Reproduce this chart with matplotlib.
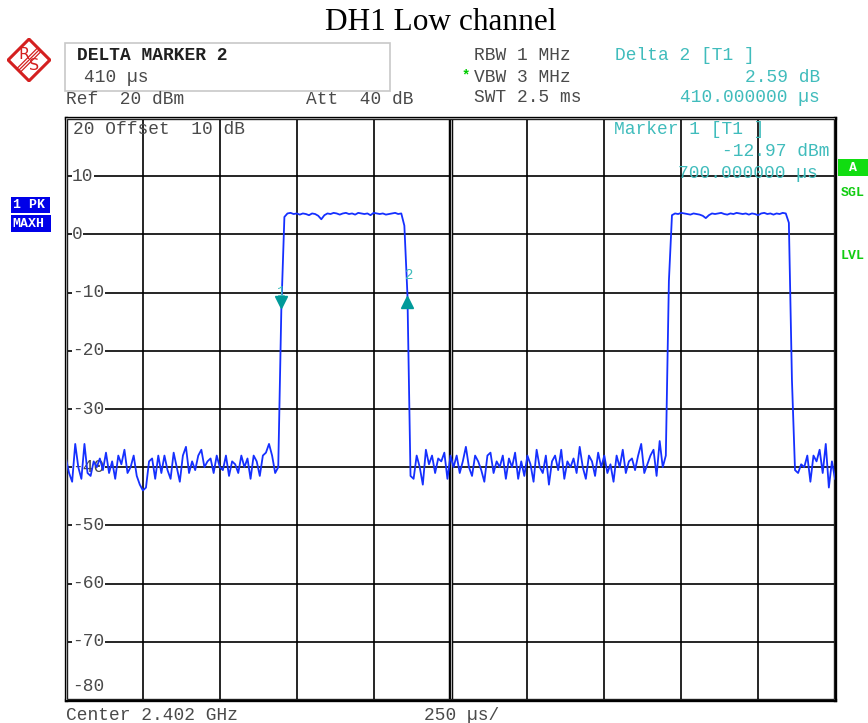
import matplotlib
matplotlib.use("Agg")
import matplotlib.pyplot as plt
import matplotlib.transforms as mtransforms
from matplotlib.patches import Rectangle, Polygon
import numpy as np

# ---------------- data ----------------
title = "DH1 Low channel"
sweep_time_us = 2500
time_div_us = 250
ref_level = 20
bottom_level = -80
ytick_values = [10, 0, -10, -20, -30, -40, -50, -60, -70]

noise_a = [-38.5, -41, -42.5, -36, -40, -42, -36, -41, -41.5, -39,
           -40, -38.5, -40.5, -37.5, -41, -39, -42, -38, -39.5, -37,
           -41, -40, -38, -41.5, -43, -44, -43.5, -39, -38.5, -42,
           -38, -41, -38, -40.5, -42, -37.5, -40, -42.5, -38, -36.5,
           -41, -39, -40.5, -38, -37, -40, -39, -38.5, -41, -38,
           -40, -40.5, -38, -41.5, -39, -39.5, -41, -38, -40, -38.5,
           -42, -38, -39, -41.5, -38, -37.5, -36, -38, -41, -40]
rise_a = [-12.97, 3.0]
top_a = [3.6, 3.7, 3.5, 3.6, 3.4, 3.6, 3.5, 3.3, 3.6, 3.5,
         3.2, 2.6, 3.3, 3.6, 3.5, 3.7, 3.6, 3.4, 3.6, 3.7,
         3.5, 3.6, 3.4, 3.7, 3.6, 3.5, 3.6, 3.3, 3.7, 3.6,
         3.5, 3.6, 3.4, 3.5, 3.6, 3.7, 3.5, 3.6]
fall_a = [1.5, -10.38, -41.5]
noise_b = [-42, -38, -40, -43, -37, -39.5, -38, -41, -38.5, -39,
           -37.5, -42, -38, -40, -38, -41, -39, -36.5, -40, -41.5,
           -38, -39, -40.5, -42.5, -38, -37.5, -41, -39, -40, -38,
           -42, -38.5, -40, -37.5, -42, -39, -41.5, -38, -39.5, -42.5,
           -37, -40, -41, -38, -43, -39, -38, -40.5, -37, -42,
           -39, -40, -38.5, -41, -36.5, -40, -42, -38, -39, -41.5,
           -37.5, -40, -38, -41, -39.5, -42.5, -38, -40, -37, -41,
           -39, -38.5, -40.5, -38, -36, -41, -39.5, -38, -37, -41.5,
           -35.5, -40]
rise_b = [-38, -8, 3.3]
top_b = [3.6, 3.5, 3.7, 3.6, 3.5, 3.4, 3.6, 3.5, 3.4, 3.2,
         2.8, 3.3, 3.6, 3.5, 3.6, 3.7, 3.5, 3.4, 3.6, 3.5,
         3.7, 3.6, 3.5, 3.6, 3.4, 3.6, 3.5, 3.3, 3.6, 3.7,
         3.5, 3.6, 3.4, 3.6, 3.5, 3.7, 3.6]
fall_b = [2.0, -25, -40.5]
noise_c = [-41, -39.5, -40, -38, -42.5, -38, -39, -37, -41, -36,
           -43.5, -39, -42]

trace_dbm = noise_a + rise_a + top_a + fall_a + noise_b + rise_b + top_b + fall_b + noise_c

marker1_us, marker1_dbm = 700, -12.97
marker2_us, marker2_dbm = 1110, -10.38

# ---------------- figure ----------------
W, H = 868, 723
fig = plt.figure(figsize=(W / 100, H / 100), dpi=100)
fig.patch.set_facecolor("white")

def P(x, y):
    return (x / W, 1 - y / H)

mono = "Liberation Mono"
grey = "#4a4a4a"
cyan = "#40bcbc"
teal = "#009a9a"
green = "#00cc00"
blue = "#0000e8"
FS = 12.9

# axes in pixel box
x0, x1, y0, y1 = 66, 835, 118, 700
ax = fig.add_axes([x0 / W, 1 - y1 / H, (x1 - x0) / W, (y1 - y0) / H])
ax.set_xlim(0, sweep_time_us)
ax.set_ylim(bottom_level, ref_level)
ax.set_xticks(np.arange(0, sweep_time_us + 1, time_div_us))
ax.set_yticks(np.arange(bottom_level, ref_level + 1, 10))
ax.tick_params(length=0, labelbottom=False, labelleft=False)
ax.set_axisbelow(True)
ax.grid(True, color="black", lw=1.2)
for s in ax.spines.values():
    s.set_linewidth(2.4)
    s.set_color("black")
ax.add_patch(Rectangle((0, 0), 1, 1, transform=ax.transAxes, fill=False,
                       ec="#9a9a9a", lw=1.0, zorder=5))
ax.axvline(sweep_time_us / 2, color="black", lw=3.2, zorder=1.5)
ax.axvline(sweep_time_us / 2, color="#b0b0b0", lw=0.8, zorder=1.6)

t = np.linspace(0, sweep_time_us, len(trace_dbm))
ax.plot(t, trace_dbm, color="#1530ff", lw=1.3, zorder=4)

# markers
off_dn = mtransforms.offset_copy(ax.transData, fig=fig, x=0, y=6, units="points")
off_up = mtransforms.offset_copy(ax.transData, fig=fig, x=0, y=-5, units="points")
ax.plot([marker1_us], [marker1_dbm], marker="v", ms=9, color=teal, transform=off_dn, zorder=6, clip_on=False)
ax.plot([marker2_us], [marker2_dbm], marker="^", ms=9, color=teal, transform=off_up, zorder=6, clip_on=False)
lab1 = mtransforms.offset_copy(ax.transData, fig=fig, x=0, y=13, units="points")
lab2 = mtransforms.offset_copy(ax.transData, fig=fig, x=1, y=14, units="points")
ax.text(marker1_us, marker1_dbm, "1", color=cyan, family=mono, fontsize=10, ha="center", va="center", transform=lab1, zorder=6)
ax.text(marker2_us, marker2_dbm, "2", color=cyan, family=mono, fontsize=10, ha="center", va="center", transform=lab2, zorder=6)

# y labels inside plot (under the trace)
for v in ytick_values:
    ax.text(0.008, v, "%d" % v, transform=ax.get_yaxis_transform(),
            color=grey, family=mono, fontsize=FS, ha="left", va="center", zorder=3,
            bbox=dict(fc="white", ec="none", pad=0.4))
ax.text(0.008, bottom_level + 2.4, "%d" % bottom_level, transform=ax.get_yaxis_transform(),
        color=grey, family=mono, fontsize=FS, ha="left", va="center", zorder=3)

# text inside plot top
fig.text(*P(73, 129), "%d Offset  10 dB" % ref_level, color=grey, family=mono, fontsize=FS, ha="left", va="center", zorder=7)
fig.text(*P(614, 129), "Marker 1 [T1 ]", color=cyan, family=mono, fontsize=FS, ha="left", va="center", zorder=7)
fig.text(*P(830, 151), "%.2f dBm" % marker1_dbm, color=cyan, family=mono, fontsize=FS, ha="right", va="center", zorder=7)
fig.text(*P(818, 173), "%.6f µs" % marker1_us, color=cyan, family=mono, fontsize=FS, ha="right", va="center", zorder=7)

# title
fig.text(*P(441, 22), title, family="Liberation Serif", fontsize=22.5, ha="center", va="center", color="black")

# delta marker box
fig.patches.append(Rectangle(P(65, 91), 325 / W, 48 / H, transform=fig.transFigure,
                             fill=False, ec="#c8c8c8", lw=1.2))
fig.text(*P(77, 55), "DELTA MARKER 2", family=mono, fontsize=FS, weight="bold", color="#202020", ha="left", va="center")
fig.text(*P(84, 77), "%d µs" % (marker2_us - marker1_us), family=mono, fontsize=FS, color=grey, ha="left", va="center")
fig.text(*P(66, 99), "Ref  %d dBm" % ref_level, family=mono, fontsize=FS, color=grey, ha="left", va="center")
fig.text(*P(306, 99), "Att  40 dB", family=mono, fontsize=FS, color=grey, ha="left", va="center")

# top right settings
fig.text(*P(474, 56), "RBW 1 MHz", family=mono, fontsize=FS, color=grey, ha="left", va="center")
fig.text(*P(474, 77), "VBW 3 MHz", family=mono, fontsize=FS, color=grey, ha="left", va="center")
fig.text(*P(466, 75), "*", family=mono, fontsize=10, color=green, ha="center", va="center", weight="bold")
fig.text(*P(474, 98), "SWT 2.5 ms", family=mono, fontsize=FS, color=grey, ha="left", va="center")
fig.text(*P(615, 56), "Delta 2 [T1 ]", family=mono, fontsize=FS, color=cyan, ha="left", va="center")
fig.text(*P(820, 77), "%.2f dB" % (marker2_dbm - marker1_dbm), family=mono, fontsize=FS, color=cyan, ha="right", va="center")
fig.text(*P(820, 98), "%.6f µs" % (marker2_us - marker1_us), family=mono, fontsize=FS, color=cyan, ha="right", va="center")

# bottom
fig.text(*P(66, 716), "Center 2.402 GHz", family=mono, fontsize=FS, color=grey, ha="left", va="center")
fig.text(*P(424, 716), "%d µs/" % time_div_us, family=mono, fontsize=FS, color=grey, ha="left", va="center")

# left blue labels
fig.patches.append(Rectangle(P(11, 213), 39 / W, 16 / H, transform=fig.transFigure, fc=blue, ec="none"))
fig.patches.append(Rectangle(P(11, 232), 40 / W, 17 / H, transform=fig.transFigure, fc=blue, ec="none"))
fig.text(*P(13, 205), "1 PK", family=mono, fontsize=9.5, weight="bold", color="white", ha="left", va="center")
fig.text(*P(12, 224), "MAXH", family=mono, fontsize=9.5, weight="bold", color="white", ha="left", va="center")

# right green labels
fig.patches.append(Rectangle(P(838, 176), 30 / W, 17 / H, transform=fig.transFigure, fc="#11dd11", ec="none"))
fig.text(*P(853, 168), "A", family=mono, fontsize=9.5, weight="bold", color="white", ha="center", va="center")
fig.text(*P(841, 193), "SGL", family=mono, fontsize=9.5, weight="bold", color="#11cc11", ha="left", va="center")
fig.text(*P(841, 256), "LVL", family=mono, fontsize=9.5, weight="bold", color="#11cc11", ha="left", va="center")

# R&S logo
lax = fig.add_axes([7 / W, 1 - 82 / H, 44 / W, 44 / H])
lax.set_xlim(-1, 1)
lax.set_ylim(-1, 1)
lax.axis("off")
red = "#d42020"
lax.add_patch(Polygon([[0, 0.95], [0.95, 0], [0, -0.95], [-0.95, 0]], closed=True, fill=False, ec=red, lw=2.2))
for d in (-0.08, 0.0, 0.08):
    lax.plot([-0.45 - d, 0.45 - d], [-0.45 + d, 0.45 + d], color=red, lw=0.9)
lax.text(-0.22, 0.24, "R", color=red, fontsize=11.5, ha="center", va="center", family="DejaVu Sans")
lax.text(0.24, -0.26, "S", color=red, fontsize=11.5, ha="center", va="center", family="DejaVu Sans")

fig.savefig("out.png", dpi=100, facecolor="white")
